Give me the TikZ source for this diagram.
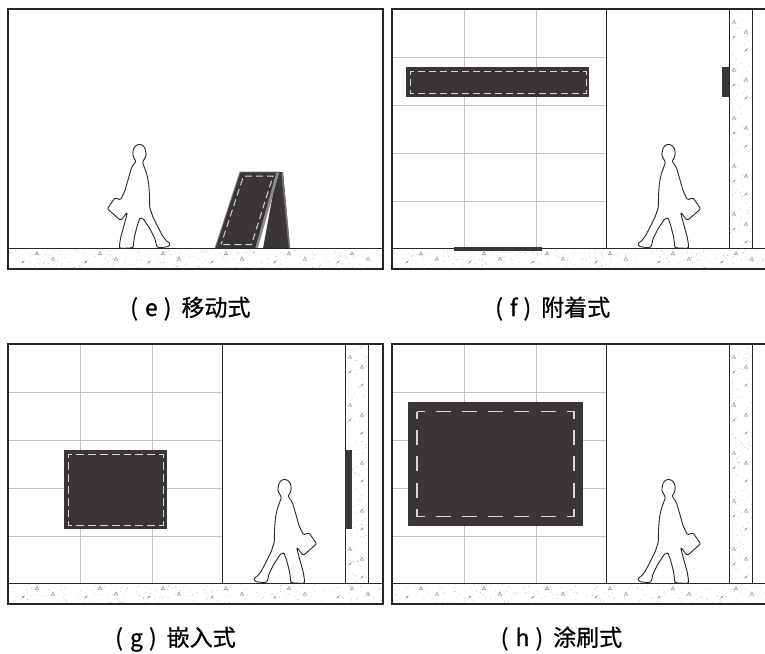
\documentclass[tikz,border=0pt]{standalone}
\usepackage{fontspec}
\newfontfamily\cjkfont[FakeBold=0.7]{Noto Sans CJK SC}
\definecolor{ink}{HTML}{262626}
\definecolor{signdark}{HTML}{3A3536}
\definecolor{dashgray}{HTML}{D6D6D6}
\definecolor{tilegray}{HTML}{C2C2C2}
\definecolor{grain}{HTML}{8C8C8C}

% fine speckle of a concrete surface inside a box: x1 y1 x2 y2 count
\newcommand\grainbox[5]{%
  \begin{scope}
    \clip (#1,#2) rectangle (#3,#4);
    \foreach \k in {1,...,#5}{%
      \pgfmathsetmacro\gx{#1+rnd*(#3-#1)}%
      \pgfmathsetmacro\gy{#2+rnd*(#4-#2)}%
      \fill[grain] (\gx,\gy) circle (0.32);
    }
  \end{scope}}
% small aggregate stone (triangle) and a pebble with a stroke
\newcommand\aggtri[2]{\draw[grain,line width=0.45] (#1,#2) -- ++(-1.7,3.1) -- ++(3.3,0.2) -- cycle;}
\newcommand\aggdot[2]{\fill[grain!80!black] (#1,#2) ellipse (0.9 and 0.7);
  \draw[grain,line width=0.4] (#1-1.6,#2+1.4) -- (#1+1.6,#2-1.4);}

% concrete floor slab under a panel
\newcommand\groundband{%
  \grainbox{8}{249.5}{383}{268.3}{240}
  \foreach \m in {0,...,5}{%
    \aggtri{37+63*\m}{251.5}
    \aggdot{23+63*\m}{262}
    \aggtri{53+63*\m}{257}
  }}
% floor line and outer frame of a panel
\newcommand\panelframe{%
  \draw[groundline] (8,248.5) -- (383,248.5);
  \draw[frameline] (8,9) rectangle (383,269);}
% tiled wall, plain wall and concrete column
\newcommand\tilewall{%
  \draw[tileline] (80,9) -- (80,248.5) (152,9) -- (152,248.5);
  \foreach \yy in {57,105,153,201}{\draw[tileline] (8,\yy) -- (222,\yy);}
  \grainbox{345.5}{9}{367.5}{248.5}{140}
  \foreach \m in {0,...,4}{%
    \aggtri{350}{20+48*\m}
    \aggdot{350}{37+48*\m}
    \aggtri{362}{30+48*\m}
    \aggdot{362}{50+48*\m}
  }
  \draw[wallline] (222,9) -- (222,248.5);
  \draw[wallline] (345,9) -- (345,248.5) (368,9) -- (368,248.5);}

\tikzset{
  walker/.pic={
    \draw[walkerline]
      (-3,-87.3) -- (-5.5,-91) -- (-6.3,-96) -- (-5,-101) -- (-1.5,-104)
      -- (2.5,-104) -- (5.8,-101) -- (6.8,-96.5) -- (7.3,-93) -- (6,-91) -- (5,-88.5)
      -- (3.5,-86.5) -- (5,-82) -- (7.7,-74.7) -- (9.7,-64.7) -- (10.5,-53)
      -- (10.7,-41.3) -- (14,-31.3) -- (19.3,-20.7) -- (24.3,-11.3)
      -- (27.7,-7.3) -- (31,-5.3) -- (30,-2) -- (20.3,-0.7) -- (17.7,-2)
      -- (16,-9.7) -- (11,-19.7) -- (4.3,-29.7) -- (1,-30.7) -- (-1.7,-23)
      -- (-4.7,-11.3) -- (-5.7,-2) -- (-6.3,-0.7) -- (-19,0) -- (-19.7,-2)
      -- (-18.3,-11.3) -- (-15,-23) -- (-12.3,-33) -- (-11.7,-36.3)
      -- (-18.3,-28) -- (-31.7,-39.7) -- (-24,-50.7) -- (-18.3,-48.7)
      -- (-14,-58) -- (-10.7,-69.7) -- (-7.3,-81.3) -- cycle;
  }
}

\begin{document}
\begin{tikzpicture}[x=1pt,y=-1pt,
  frameline/.style={draw=ink,line width=1.6},
  groundline/.style={draw=ink,line width=1.3},
  tileline/.style={draw=tilegray,line width=0.6},
  wallline/.style={draw=ink,line width=0.9},
  signbody/.style={fill=signdark},
  signdash/.style={draw=dashgray,line width=1.0,dash pattern=on 7.9 off 4,dash phase=3.95},
  walkerline/.style={draw=ink,fill=white,line width=0.9,rounded corners=1.2,line join=round},
  caption/.style={font=\cjkfont\fontsize{23}{26}\selectfont,anchor=base west,inner sep=0pt}]
\useasboundingbox (0,0) rectangle (765,653);
\fill[white] (0,0) rectangle (765,653);
\pgfmathsetseed{7}

% (e) free-standing A-frame board on the pavement
\begin{scope}
  \groundband
  \pic at (139,248.5) {walker};
  \fill[signdark] (277,172) -- (283,172) -- (290,248.5) -- (263,248.5) -- cycle;
  \draw[black!55,line width=1.6] (282,172.5) -- (289.5,248.5);
  \fill[signdark] (215,248.5) -- (240,172) -- (279,172) -- (257,248.5) -- cycle;
  \draw[black!50,line width=0.8] (215,248.5) -- (240,172) -- (279,172) -- (257,248.5) -- cycle;
  \draw[black!45,line width=2.4] (277.5,173) -- (256.5,248.5);
  \draw[signdash,dash pattern=on 7 off 4,dash phase=3.5]
    (221,244.5) -- (243.5,176) -- (273,176) -- (251.5,244.5) -- cycle;
  \panelframe
\end{scope}

% (f) board fixed on the wall surface
\begin{scope}[shift={(384,0)}]
  \groundband
  \tilewall
  \fill[signbody] (22,67) rectangle (205,97);
  \draw[signdash,dash pattern=on 7 off 4,dash phase=3.5] (26.5,71) rectangle (202.5,93);
  \fill[signbody] (338,67) rectangle (345,97);
  \pic[xscale=-1] at (285,248.5) {walker};
  \panelframe
  \fill[signbody] (70,246.6) rectangle (158,251);
\end{scope}

% (g) board set into the wall
\begin{scope}[shift={(0,335)}]
  \groundband
  \tilewall
  \fill[signbody] (64,115) rectangle (167,194);
  \draw[signdash] (68,119) rectangle (163.2,190.4);
  \fill[signbody] (345,115) rectangle (352,194);
  \pic[xscale=-1] at (285,248.5) {walker};
  \panelframe
\end{scope}

% (h) image painted directly on the wall
\begin{scope}[shift={(384,335)}]
  \groundband
  \tilewall
  \fill[signbody] (24,67) rectangle (199,191);
  \draw[signdash,line width=1.6,dash pattern=on 15 off 11.2,dash phase=7.5]
    (33,76.5) rectangle (190.2,181.3);
  \pic[xscale=-1] at (285,248.5) {walker};
  \panelframe
\end{scope}

% captions
\node[caption] (cap-e) at (130,316) {(\hspace{7pt}e\hspace{6pt})\hspace{10pt}移动式};
\node[caption] (cap-f) at (495,316) {(\hspace{7pt}f\hspace{6pt})\hspace{10pt}附着式};
\node[caption] (cap-g) at (115,646) {(\hspace{7pt}g\hspace{6pt})\hspace{10pt}嵌入式};
\node[caption] (cap-h) at (500.5,646) {(\hspace{7pt}h\hspace{6pt})\hspace{10pt}涂刷式};
\end{tikzpicture}
\end{document}
